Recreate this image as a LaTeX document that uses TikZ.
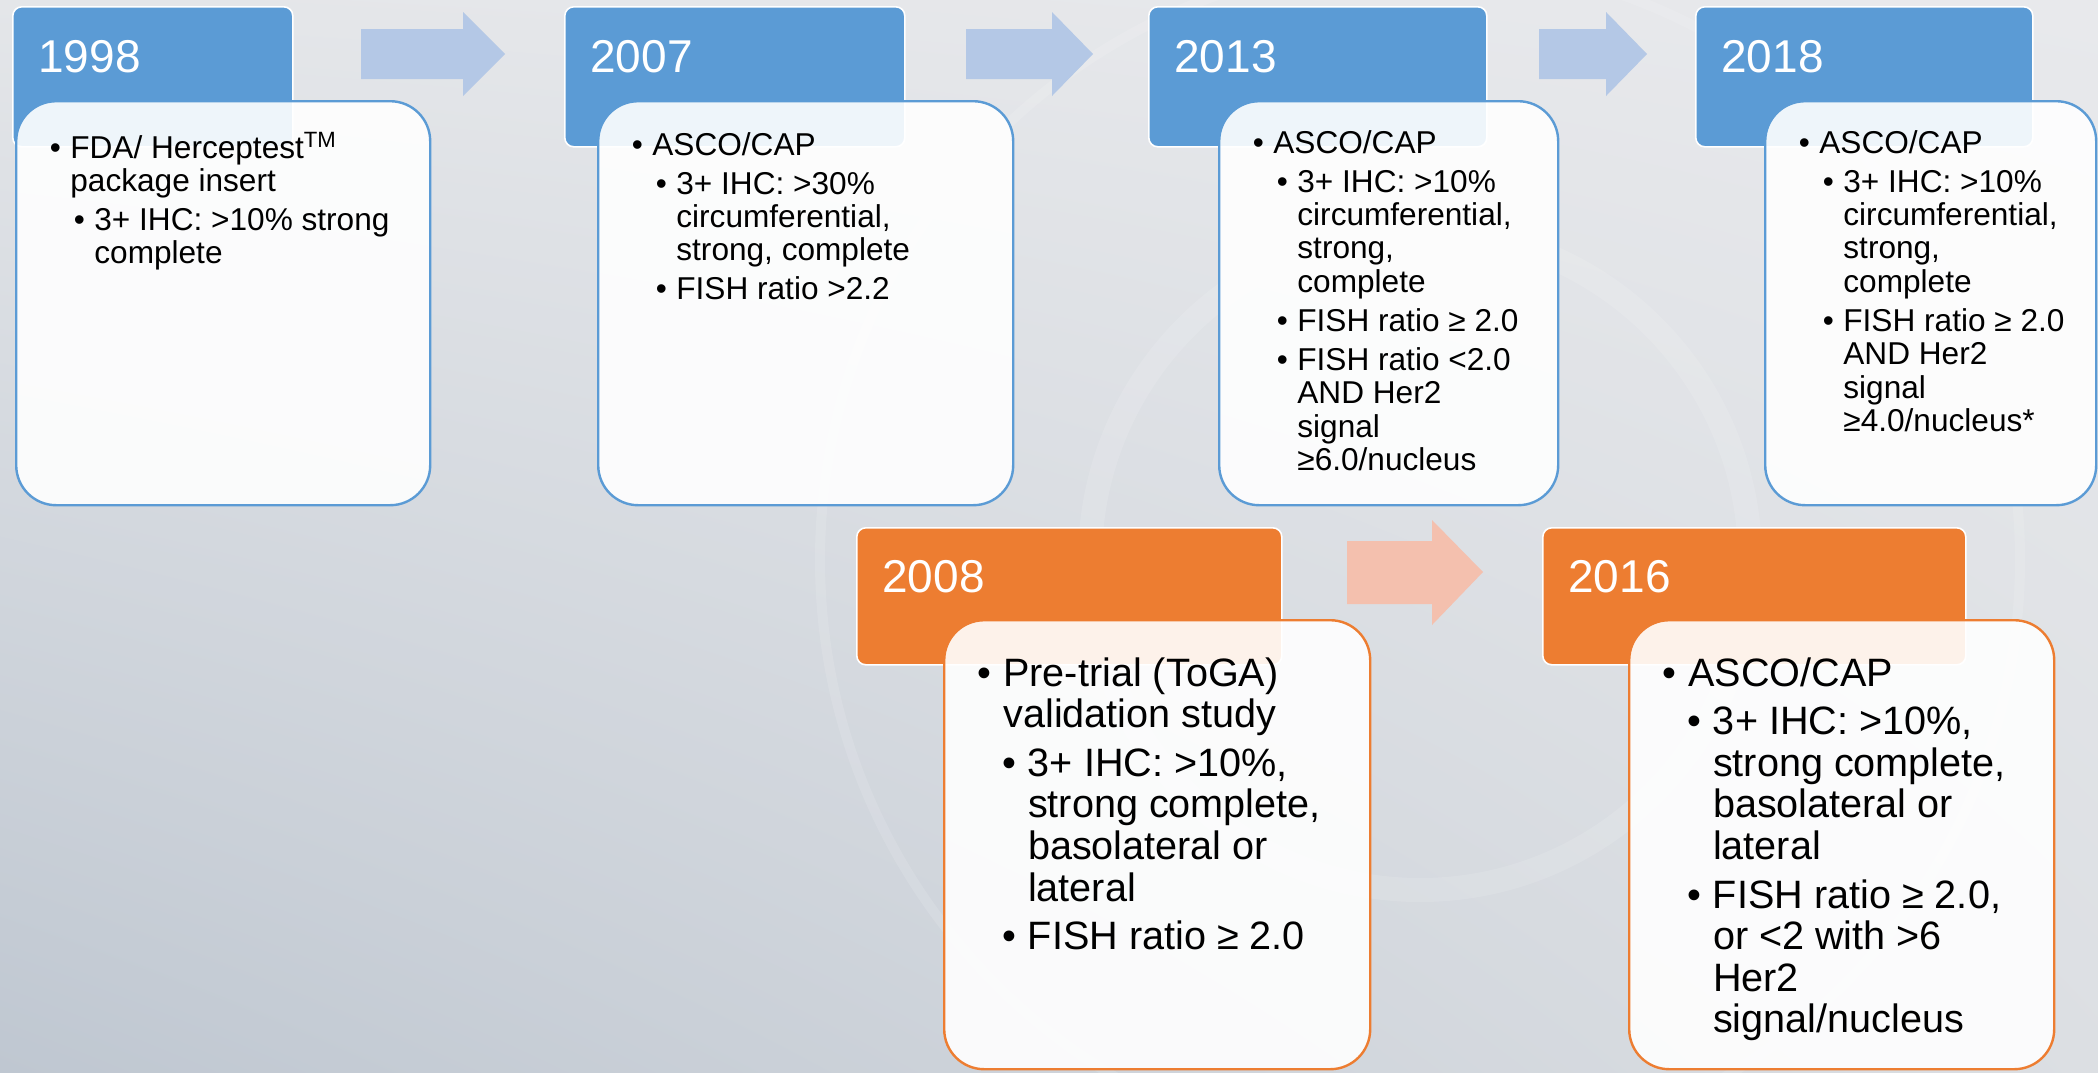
\documentclass[tikz,border=0pt]{standalone}
\usepackage{fontspec}
\setmainfont{Liberation Sans}
\usetikzlibrary{positioning,shadings}

\definecolor{hdblue}{HTML}{5B9BD5}
\definecolor{hdorange}{HTML}{ED7D31}
\definecolor{arblue}{HTML}{B4C8E6}
\definecolor{arorange}{HTML}{F4C0AE}
\definecolor{bgul}{HTML}{E4E6E9}
\definecolor{bgur}{HTML}{E8E9EC}
\definecolor{bgll}{HTML}{BFC7D1}
\definecolor{bglr}{HTML}{DCDFE3}

\newlength\indA
\newlength\indB
\newcommand{\ia}{\par\leftskip=\indA\noindent\llap{\makebox[0.65em][l]{\textbullet}}}
\newcommand{\ib}{\par\leftskip=\indB\noindent\llap{\makebox[0.65em][l]{\textbullet}}}
\newcommand{\uplist}[2]{\vtop{\hsize=#1\fontsize{15.8}{16.7}\selectfont
  \parskip=2.8pt\parindent=0pt\indA=27.5pt\indB=39.5pt #2\par}}
\newcommand{\lowlist}[2]{\vtop{\hsize=#1\fontsize{19.8}{20.8}\selectfont
  \parskip=3.5pt\parindent=0pt\indA=30pt\indB=42.3pt #2\par}}

\tikzset{
  header/.style={draw=white, line width=0.8pt, rounded corners=4.5pt, anchor=north west, inner sep=0pt},
  bluehead/.style={header, fill=hdblue, minimum height=70pt},
  orghead/.style={header, fill=hdorange, minimum height=68.5pt},
  year/.style={anchor=base west, inner sep=0pt, text=white, font=\fontsize{23}{27}\selectfont},
  note/.style={fill=white, fill opacity=0.9, line width=1.2pt, rounded corners=20pt, anchor=north west, inner sep=0pt},
  bluenote/.style={note, draw=hdblue, minimum height=202pt},
  orgnote/.style={note, draw=hdorange, minimum height=224.5pt},
  notetext/.style={inner sep=0pt, anchor=base west},
  ring/.style={white, opacity=0.12},
}

\begin{document}
\begin{tikzpicture}[x=0.5pt, y=-0.5pt]
    \useasboundingbox (0,0) rectangle (2098,1072);
    \shade[upper left=bgul, upper right=bgur, lower left=bgll, lower right=bglr] (0,0) rectangle (2098,1072);
    % faint rings in the background
    \begin{scope}
      \clip (0,0) rectangle (2098,1072);
      \draw[ring, line width=12pt] (1420,560) circle[radius=330];
      \draw[ring, line width=5pt] (1420,560) circle[radius=600];
    \end{scope}

    % arrows between the years
    \fill[arblue] (361,29) -- (463,29) -- (463,12) -- (505,54) -- (463,96) -- (463,79) -- (361,79) -- cycle;
    \fill[arblue] (966,29) -- (1052,29) -- (1052,12) -- (1093,54) -- (1052,96) -- (1052,79) -- (966,79) -- cycle;
    \fill[arblue] (1539,29) -- (1606,29) -- (1606,12) -- (1647,54) -- (1606,96) -- (1606,79) -- (1539,79) -- cycle;
    \fill[arorange] (1347,541) -- (1432,541) -- (1432,520) -- (1483,572) -- (1432,625) -- (1432,604) -- (1347,604) -- cycle;

    % upper row
    \node[bluehead, minimum width=140pt] (h1998) at (12,6) {};
    \node[bluehead, minimum width=170pt] (h2007) at (564,6) {};
    \node[bluehead, minimum width=169pt] (h2013) at (1148,6) {};
    \node[bluehead, minimum width=168.5pt] (h2018) at (1695,6) {};
    \node[year, below right=33.25pt and 13pt of h1998.north west, anchor=base west] (y1998) {1998};
    \node[year, below right=33.25pt and 13pt of h2007.north west, anchor=base west] (y2007) {2007};
    \node[year, below right=33.25pt and 13pt of h2013.north west, anchor=base west] (y2013) {2013};
    \node[year, below right=33.25pt and 13pt of h2018.north west, anchor=base west] (y2018) {2018};

    \node[bluenote, minimum width=207pt] (n1998) at (15,100) {};
    \node[bluenote, minimum width=207.5pt] (n2007) at (597,100) {};
    \node[bluenote, minimum width=169.5pt] (n2013) at (1218,100) {};
    \node[bluenote, minimum width=165.5pt] (n2018) at (1764,100) {};

    \node[notetext, below right=29pt and 0pt of n1998.north west, anchor=base west] (t1998) {\uplist{205pt}{%
      \ia FDA/ Herceptest\textsuperscript{TM}\newline package insert
      \ib 3+ IHC: >10\% strong\newline complete}};
    \node[notetext, below right=27.5pt and 0pt of n2007.north west, anchor=base west] (t2007) {\uplist{205pt}{%
      \ia ASCO/CAP
      \ib 3+ IHC: >30\%\newline circumferential,\newline strong, complete
      \ib FISH ratio >2.2}};
    \node[notetext, below right=26.5pt and 0pt of n2013.north west, anchor=base west] (t2013) {\uplist{168pt}{%
      \ia ASCO/CAP
      \ib 3+ IHC: >10\%\newline circumferential,\newline strong,\newline complete
      \ib FISH ratio ≥ 2.0
      \ib FISH ratio <2.0\newline AND Her2\newline signal\newline ≥6.0/nucleus}};
    \node[notetext, below right=26.5pt and 0pt of n2018.north west, anchor=base west] (t2018) {\uplist{164pt}{%
      \ia ASCO/CAP
      \ib 3+ IHC: >10\%\newline circumferential,\newline strong,\newline complete
      \ib FISH ratio ≥ 2.0\newline AND Her2\newline signal\newline ≥4.0/nucleus*}};

    % lower row
    \node[orghead, minimum width=212.5pt] (h2008) at (856,527) {};
    \node[orghead, minimum width=211.5pt] (h2016) at (1542,527) {};
    \node[year, below right=32.5pt and 13pt of h2008.north west, anchor=base west] (y2008) {2008};
    \node[year, below right=32.5pt and 13pt of h2016.north west, anchor=base west] (y2016) {2016};

    \node[orgnote, minimum width=213pt] (n2008) at (943,619) {};
    \node[orgnote, minimum width=212.5pt] (n2016) at (1628,619) {};

    \node[notetext, below right=33.5pt and 0pt of n2008.north west, anchor=base west] (t2008) {\lowlist{211pt}{%
      \ia Pre-trial (ToGA)\newline validation study
      \ib 3+ IHC: >10\%,\newline strong complete,\newline basolateral or\newline lateral
      \ib FISH ratio ≥ 2.0}};
    \node[notetext, below right=33.5pt and 0pt of n2016.north west, anchor=base west] (t2016) {\lowlist{211pt}{%
      \ia ASCO/CAP
      \ib 3+ IHC: >10\%,\newline strong complete,\newline basolateral or\newline lateral
      \ib FISH ratio ≥ 2.0,\newline or <2 with >6\newline Her2\newline signal/nucleus}};
\end{tikzpicture}
\end{document}
